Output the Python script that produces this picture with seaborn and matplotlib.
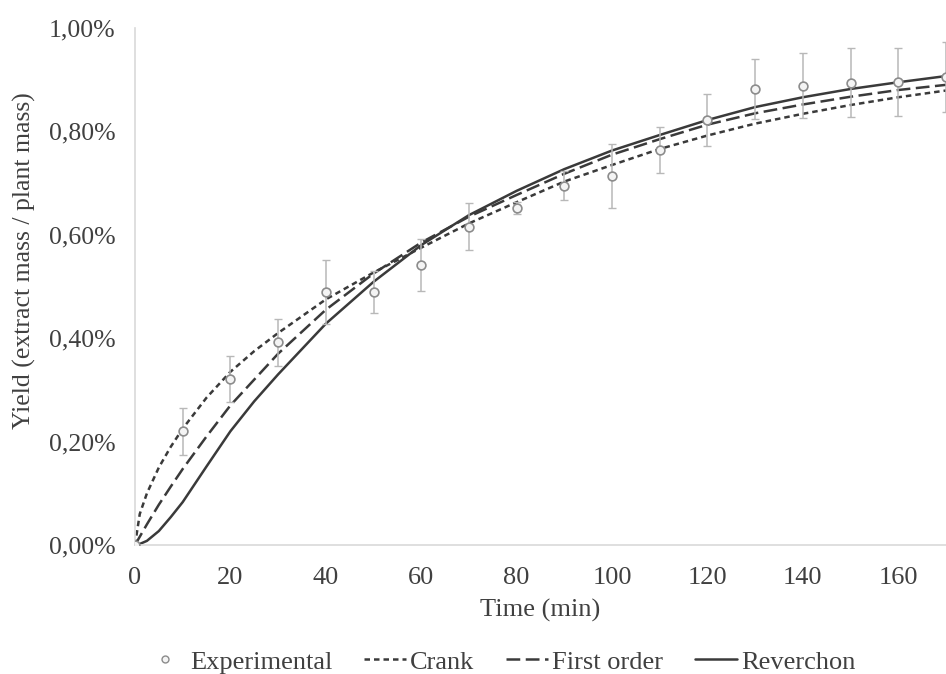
import matplotlib
matplotlib.use("Agg")
import matplotlib.pyplot as plt
import seaborn as sns
import pandas as pd
from matplotlib.lines import Line2D
from matplotlib.ticker import FuncFormatter

# experimental yield (%) with standard deviation
t_exp = [0, 10, 20, 30, 40, 50, 60, 70, 80, 90, 100, 110, 120, 130, 140, 150, 160, 170]
y_exp = [0.0, 0.22, 0.321, 0.392, 0.489, 0.489, 0.542, 0.616, 0.652, 0.695, 0.714, 0.764,
         0.822, 0.882, 0.888, 0.894, 0.896, 0.905]
y_err = [0.0, 0.045, 0.045, 0.045, 0.062, 0.04, 0.05, 0.045, 0.012, 0.028, 0.062, 0.045,
         0.05, 0.058, 0.063, 0.067, 0.066, 0.068]

# model curves
t_model = [0, 1, 2.5, 5, 7.5, 10, 15, 20, 25, 30, 40, 50, 60, 70, 80, 90, 100, 110, 120,
           130, 140, 150, 160, 170]
crank = [0.0, 0.06, 0.10, 0.15, 0.19, 0.225, 0.285, 0.335, 0.375, 0.41, 0.475, 0.527,
         0.575, 0.622, 0.663, 0.703, 0.735, 0.766, 0.792, 0.815, 0.834, 0.851, 0.866, 0.879]
first_order = [0.0, 0.016, 0.04, 0.078, 0.113, 0.147, 0.21, 0.27, 0.32, 0.37, 0.455, 0.525,
               0.585, 0.635, 0.677, 0.718, 0.755, 0.785, 0.813, 0.835, 0.852, 0.867, 0.88, 0.89]
reverchon = [0.0, 0.002, 0.008, 0.027, 0.054, 0.083, 0.152, 0.22, 0.278, 0.33, 0.428, 0.509,
             0.58, 0.638, 0.685, 0.727, 0.763, 0.793, 0.822, 0.847, 0.866, 0.882, 0.895, 0.907]

sns.set_theme(style="white")
plt.rcParams['font.family'] = ['Liberation Serif', 'DejaVu Serif']

fig = plt.figure(figsize=(9.46, 6.74), dpi=100)
ax = fig.add_axes([0.1427, 0.1914, 0.8573, 0.7671])

line_col = '#3a3a3a'
text_col = '#404040'
models = pd.DataFrame({'t': t_model, 'Crank': crank, 'First order': first_order,
                       'Reverchon': reverchon})
sns.lineplot(data=models, x='t', y='Crank', ax=ax, color=line_col, lw=1.8,
             linestyle=(0, (2.2, 1.6)))
sns.lineplot(data=models, x='t', y='First order', ax=ax, color=line_col, lw=1.8,
             linestyle=(0, (5.5, 2.2)))
sns.lineplot(data=models, x='t', y='Reverchon', ax=ax, color=line_col, lw=1.8)

# experimental points with error bars
ax.errorbar(t_exp, y_exp, yerr=y_err, fmt='none', ecolor='#b8b8b8', elinewidth=1.1,
            capsize=3, capthick=1.0, zorder=3)
exp_df = pd.DataFrame({'t': t_exp, 'y': y_exp})
sns.scatterplot(data=exp_df, x='t', y='y', ax=ax, s=40, facecolor='#f4f4f4',
                edgecolor='#8c8c8c', linewidth=1.2, zorder=4)

ax.set_xlim(0, 170)
ax.set_ylim(0, 1.0)
ax.set_xticks(range(0, 170, 20))
ax.set_yticks([0, 0.2, 0.4, 0.6, 0.8, 1.0])
ax.yaxis.set_major_formatter(FuncFormatter(lambda v, p: f"{v:.2f}%".replace('.', ',')))
ax.tick_params(axis='x', labelsize=19, colors=text_col, length=0, pad=16)
ax.tick_params(axis='y', labelsize=18.5, colors=text_col, length=0, pad=14)

for side in ['top', 'right']:
    ax.spines[side].set_visible(False)
for side in ['left', 'bottom']:
    ax.spines[side].set_color('#d9d9d9')
    ax.spines[side].set_linewidth(1.2)

ax.set_xlabel('Time (min)', fontsize=19, color=text_col)
ax.xaxis.set_label_coords(0.5, -0.105)
ax.set_ylabel('Yield (extract mass / plant mass)', fontsize=18.5, color=text_col)
ax.yaxis.set_label_coords(-0.122, 0.55)

handles = [
    Line2D([], [], marker='o', ls='none', ms=5, mfc='#f4f4f4', mec='#8c8c8c', mew=1.0),
    Line2D([], [], color=line_col, lw=1.8, ls=(0, (2.2, 1.6))),
    Line2D([], [], color=line_col, lw=1.8, ls=(0, (5.5, 2.2))),
    Line2D([], [], color=line_col, lw=1.8),
]
labels = ['Experimental', 'Crank', 'First order', 'Reverchon']
fig.legend(handles, labels, loc='center', bbox_to_anchor=(0.528, 0.018), ncol=4,
           frameon=False, fontsize=19, handlelength=1.6, handletextpad=0.15,
           columnspacing=1.2, labelcolor=text_col)

fig.savefig('out.png', dpi=100)
